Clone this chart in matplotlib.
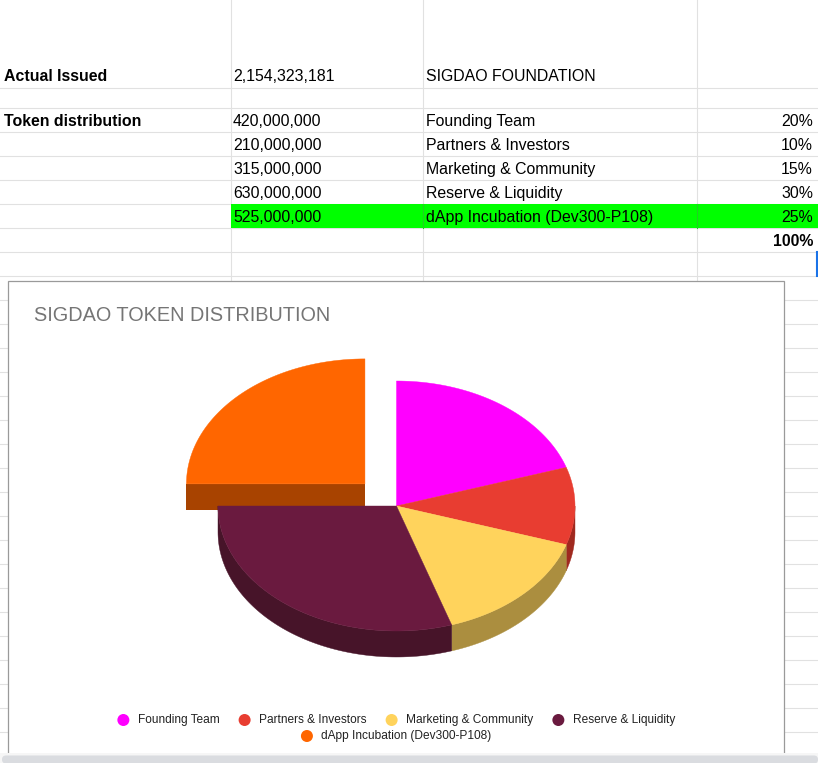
import numpy as np
import matplotlib
matplotlib.use('Agg')
import matplotlib.pyplot as plt
from matplotlib.patches import Polygon, Rectangle, Circle, FancyBboxPatch

# sheet values
issued = 2154323181
foundation = 'SIGDAO FOUNDATION'
categories = ['Founding Team', 'Partners & Investors', 'Marketing & Community',
              'Reserve & Liquidity', 'dApp Incubation (Dev300-P108)']
tokens = [420000000, 210000000, 315000000, 630000000, 525000000]
shares = [20, 10, 15, 30, 25]
exploded = [False, False, False, False, True]

top_colors = ['#ff00ff', '#e83d31', '#ffd35c', '#6a1a3f', '#ff6600']
side_colors = ['#a300a3', '#a0291f', '#ab8e3f', '#471429', '#a84300']

plt.rcParams['font.family'] = ['Liberation Sans', 'DejaVu Sans']

fig = plt.figure(figsize=(8.18, 7.63), dpi=100)
ax = fig.add_axes([0, 0, 1, 1])
ax.set_xlim(0, 818)
ax.set_ylim(763, 0)
ax.axis('off')

# spreadsheet grid
grid = '#e1e1e1'
row_lines = [87.7, 108.3] + list(np.arange(132.3, 760, 24))
for y in row_lines:
    ax.plot([0, 818], [y, y], color=grid, lw=0.8, zorder=1)
for x in [230.5, 422.5, 696.5]:
    ax.plot([x, x], [0, 281], color=grid, lw=0.8, zorder=1)

# highlighted row
ax.add_patch(Rectangle((230.5, 204.3), 590, 24, fc='#00ff00', ec='none', zorder=2))
for x in [422.5, 696.5]:
    ax.plot([x, x], [204.3, 228.3], color='#22d022', lw=0.8, zorder=3)
ax.plot([817, 817], [252.3, 276.3], color='#1a73e8', lw=1.5, zorder=3)

fs = 11.4
ax.text(4, 81, 'Actual Issued', fontsize=fs, fontweight='bold', zorder=3)
ax.text(233, 81, f'{issued:,}', fontsize=fs, zorder=3)
ax.text(426, 81, foundation, fontsize=fs, zorder=3)
ax.text(4, 125.7, 'Token distribution', fontsize=fs, fontweight='bold', zorder=3)
for i, name in enumerate(categories):
    y = 125.7 + 24 * i
    ax.text(233, y, f'{tokens[i]:,}', fontsize=fs, zorder=3)
    ax.text(426, y, name, fontsize=fs, zorder=3)
    ax.text(813, y, f'{shares[i]}%', fontsize=fs, ha='right', zorder=3)
ax.text(813, 245.7, f'{sum(shares)}%', fontsize=fs, fontweight='bold', ha='right', zorder=3)

# embedded chart box
ax.add_patch(Rectangle((8.3, 280.7), 776, 480, fc='white', ec='#9a9a9a', lw=0.9, zorder=4))
ax.text(34, 320.7, 'SIGDAO TOKEN DISTRIBUTION', fontsize=14.3, color='#757575', zorder=5)

# 3d pie
cx, cy, R, r, depth = 396.5, 506.0, 178.5, 125.0, 26.0
bounds = np.concatenate([[0], np.cumsum(shares)]) / sum(shares) * 360


def rim(a0, a1, ox, oy, n=90):
    t = np.radians(np.linspace(a0, a1, n))
    return np.column_stack([ox + R * np.sin(t), oy - r * np.cos(t)])


def centre(i):
    if not exploded[i]:
        return cx, cy
    mid = np.radians((bounds[i] + bounds[i + 1]) / 2)
    return cx + 0.25 * R * np.sin(mid), cy - 0.25 * r * np.cos(mid)


def walls(i, z):
    a0, a1 = bounds[i], bounds[i + 1]
    ox, oy = centre(i)
    lo, hi = max(a0, 90), min(a1, 270)
    if lo < hi:
        edge = rim(lo, hi, ox, oy)
        ax.add_patch(Polygon(np.vstack([edge, edge[::-1] + [0, depth]]),
                             fc=side_colors[i], ec=side_colors[i], lw=0.3, zorder=z))
    if exploded[i] and 180 < a0 % 360 < 360:
        p = rim(a0, a0, ox, oy, n=1)[0]
        ax.add_patch(Polygon([[ox, oy], p, p + [0, depth], [ox, oy + depth]],
                             fc=side_colors[i], ec='none', zorder=z))


def top(i, z):
    ox, oy = centre(i)
    pts = np.vstack([[ox, oy], rim(bounds[i], bounds[i + 1], ox, oy)])
    ax.add_patch(Polygon(pts, fc=top_colors[i], ec=top_colors[i], lw=0.3, zorder=z))


for i in range(len(shares)):
    if exploded[i]:
        walls(i, 5)
        top(i, 6)
for i in range(len(shares)):
    if not exploded[i]:
        walls(i, 7)
for i in range(len(shares)):
    if not exploded[i]:
        top(i, 8)

# legend, two centred rows
renderer = fig.canvas.get_renderer()
rows = [[0, 1, 2, 3], [4]]
row_y = [720, 736]
gap = 25
for idx, y in zip(rows, row_y):
    items = []
    for i in idx:
        t = ax.text(0, y, categories[i], fontsize=8.6, color='#222222', va='center', zorder=9)
        w = t.get_window_extent(renderer).width
        items.append((i, t, 14.5 + w))
    total = 6 + sum(it[2] for it in items) + gap * (len(items) - 1)
    x = 396.3 - total / 2 + 6
    for i, t, w in items:
        ax.add_patch(Circle((x, y), 6, fc=top_colors[i], ec='none', zorder=9))
        t.set_x(x + 14.5)
        x += w + gap

# bottom scrollbar
ax.add_patch(Rectangle((0, 752.5), 818, 11, fc='#f6f6f6', ec='none', zorder=10))
ax.add_patch(FancyBboxPatch((2, 755.5), 816, 8, boxstyle='round,pad=0,rounding_size=4',
                            fc='#dadce0', ec='none', zorder=11))

fig.savefig('out.png', dpi=100)
